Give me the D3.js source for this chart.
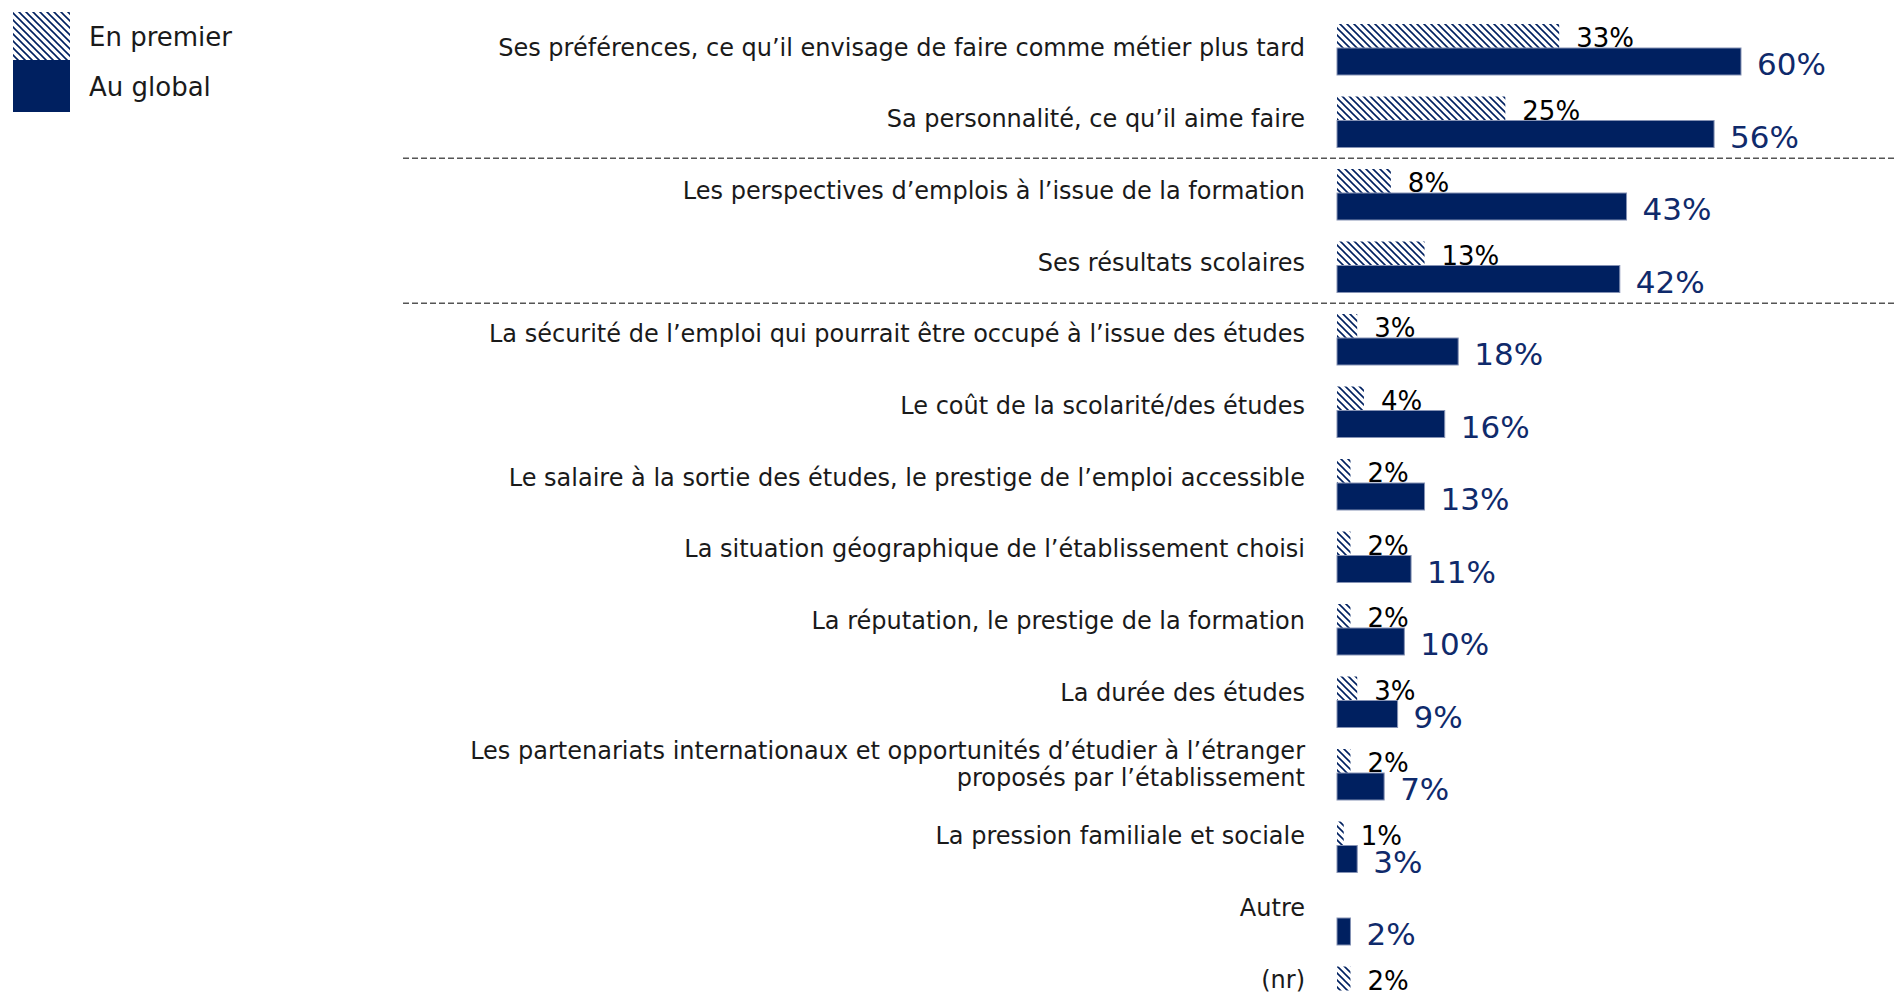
<!DOCTYPE html>
<html>
<head>
<meta charset="utf-8">
<script src="https://cdn.jsdelivr.net/npm/d3@7"></script>
<style>
  body { margin: 0; background: #fff; }
  svg { display: block; font-family: "DejaVu Sans", Verdana, sans-serif; }
</style>
</head>
<body>
<div id="chart"></div>
<script>
// categories, top to bottom (one entry per row, labels may span two lines)
const categories = [
  ["Ses préférences, ce qu’il envisage de faire comme métier plus tard"],
  ["Sa personnalité, ce qu’il aime faire"],
  ["Les perspectives d’emplois à l’issue de la formation"],
  ["Ses résultats scolaires"],
  ["La sécurité de l’emploi qui pourrait être occupé à l’issue des études"],
  ["Le coût de la scolarité/des études"],
  ["Le salaire à la sortie des études, le prestige de l’emploi accessible"],
  ["La situation géographique de l’établissement choisi"],
  ["La réputation, le prestige de la formation"],
  ["La durée des études"],
  ["Les partenariats internationaux et opportunités d’étudier à l’étranger", "proposés par l’établissement"],
  ["La pression familiale et sociale"],
  ["Autre"],
  ["(nr)"]
];
const enPremier = [33, 25, 8, 13, 3, 4, 2, 2, 2, 3, 2, 1, null, 2];
const auGlobal = [60, 56, 43, 42, 18, 16, 13, 11, 10, 9, 7, 3, 2, null];
const seriesNames = ["En premier", "Au global"];
// a dashed separator is drawn after these rows
const separatorsAfter = [1, 3];

const width = 1896, height = 995;
const navy = "#002060";

const svg = d3.select("#chart").append("svg")
  .attr("width", width)
  .attr("height", height);

const defs = svg.append("defs");
const pat = defs.append("pattern")
  .attr("id", "hatch")
  .attr("patternUnits", "userSpaceOnUse")
  .attr("width", 7)
  .attr("height", 7);
pat.append("rect").attr("width", 7).attr("height", 7).attr("fill", "#fff");
pat.append("path")
  .attr("d", "M-1,-1 L8,8 M-1,6 L1,8 M6,-1 L8,1")
  .attr("stroke", navy)
  .attr("stroke-width", 1.6);

const idx = d3.range(categories.length);

// row tops for the bars, and vertical centers for the labels
const yRow = d3.scalePoint().domain(idx).range([24, 966.5]);
const yLab = d3.scalePoint().domain(idx).range([47, 979]);
const x = d3.scaleLinear().domain([0, 60]).range([1337, 1741]);

const hatchH = 24, solidH = 27;

// separators
svg.append("g")
  .selectAll("line")
  .data(separatorsAfter)
  .join("line")
  .attr("x1", 403)
  .attr("x2", width)
  .attr("y1", (i) => (yRow(i) + hatchH + solidH + yRow(i + 1)) / 2)
  .attr("y2", (i) => (yRow(i) + hatchH + solidH + yRow(i + 1)) / 2)
  .attr("stroke", "#555")
  .attr("stroke-width", 1.5)
  .attr("stroke-dasharray", "6,3");

// category labels
const labels = svg.append("g")
  .attr("font-size", 24)
  .attr("fill", "#1a1a1a")
  .attr("text-anchor", "end")
  .selectAll("text")
  .data(idx)
  .join("text")
  .attr("x", 1305)
  .attr("y", (i) => yLab(i) + 8.5);
labels.selectAll("tspan")
  .data((i) => categories[i].map((t, k, a) => ({ t, k, n: a.length })))
  .join("tspan")
  .attr("x", 1305)
  .attr("dy", (d) => (d.k === 0 ? (d.n > 1 ? -13.5 : 0) : 27))
  .text((d) => d.t);

// "en premier" hatched bars
const prem = idx.filter((i) => enPremier[i] != null);
svg.append("g")
  .selectAll("rect")
  .data(prem)
  .join("rect")
  .attr("x", x(0))
  .attr("y", (i) => yRow(i))
  .attr("width", (i) => x(enPremier[i]) - x(0))
  .attr("height", hatchH)
  .attr("fill", "url(#hatch)");

svg.append("g")
  .attr("font-size", 26)
  .attr("fill", "#000")
  .selectAll("text")
  .data(prem)
  .join("text")
  .attr("x", (i) => x(enPremier[i]) + 17)
  .attr("y", (i) => yRow(i) + hatchH - 1)
  .text((i) => enPremier[i] + "%");

// "au global" solid bars
const glob = idx.filter((i) => auGlobal[i] != null);
svg.append("g")
  .selectAll("rect")
  .data(glob)
  .join("rect")
  .attr("x", x(0))
  .attr("y", (i) => yRow(i) + hatchH)
  .attr("width", (i) => x(auGlobal[i]) - x(0))
  .attr("height", solidH)
  .attr("fill", navy)
  .attr("stroke", "#8592b4")
  .attr("stroke-width", 1);

svg.append("g")
  .attr("font-size", 31)
  .attr("fill", "#0f2a6b")
  .selectAll("text")
  .data(glob)
  .join("text")
  .attr("x", (i) => x(auGlobal[i]) + 16)
  .attr("y", (i) => yRow(i) + hatchH + solidH)
  .text((i) => auGlobal[i] + "%");

// legend
const legend = svg.append("g").attr("font-size", 26).attr("fill", "#1a1a1a");
legend.selectAll("rect")
  .data(seriesNames)
  .join("rect")
  .attr("x", 13)
  .attr("y", (d, k) => 12 + k * 48)
  .attr("width", 57)
  .attr("height", (d, k) => (k === 0 ? 48 : 52))
  .attr("fill", (d, k) => (k === 0 ? "url(#hatch)" : navy));
legend.selectAll("text")
  .data(seriesNames)
  .join("text")
  .attr("x", 89)
  .attr("y", (d, k) => 46 + k * 50)
  .text((d) => d);
</script>
</body>
</html>
